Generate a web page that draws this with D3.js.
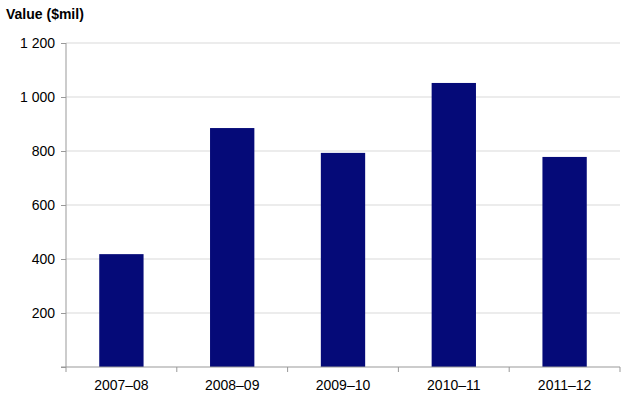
<!DOCTYPE html>
<html><head><meta charset="utf-8">
<script src="https://cdn.jsdelivr.net/npm/d3@7"></script>
<style>body{margin:0;background:#fff}</style></head>
<body><svg id="c" width="623" height="403"></svg>
<script>
const categories=["2007–08","2008–09","2009–10","2010–11","2011–12"];
const values=[418,885,793,1052,778];
const yTicks=[200,400,600,800,1000,1200];
const yTickLabels=["200","400","600","800","1 000","1 200"];
const svg=d3.select("#c");
const L=66,R=620,T=43,B=367;
const x=d3.scaleBand().domain(categories).range([L,R]).paddingInner(0.6).paddingOuter(0.3);
const xb=d3.scaleBand().domain(categories).range([L,R]);
const y=d3.scaleLinear().domain([0,1200]).range([B,T]);
const font="Liberation Sans, Arial, sans-serif";
svg.append("g").selectAll("line").data(yTicks).join("line")
 .attr("x1",L).attr("x2",R).attr("y1",d=>y(d)).attr("y2",d=>y(d))
 .attr("stroke","#d9d9d9").attr("stroke-width",1);
svg.append("g").selectAll("rect").data(values).join("rect")
 .attr("x",(d,i)=>x(categories[i])).attr("width",x.bandwidth())
 .attr("y",d=>y(d)).attr("height",d=>B-y(d)).attr("fill","#050a78");
const ya=svg.append("g").attr("transform",`translate(${L},0)`)
 .call(d3.axisLeft(y).tickValues([0,...yTicks]).tickSize(5).tickFormat((d,i)=>i==0?"":yTickLabels[i-1]));
ya.select(".domain").attr("stroke","#999").attr("d",`M0,${T}V${B}`);
ya.selectAll(".tick line").attr("stroke","#999");
ya.selectAll("text").attr("font-family",font).attr("font-size",14).attr("fill","#000").attr("dx",-3);
const xa=svg.append("g").attr("transform",`translate(0,${B})`);
xa.append("line").attr("x1",L-5).attr("x2",R).attr("stroke","#999");
xa.selectAll(".t").data([...categories.map(c=>xb(c)),R]).join("line")
 .attr("x1",d=>d).attr("x2",d=>d).attr("y1",0).attr("y2",5).attr("stroke","#999");
xa.selectAll("text").data(categories).join("text")
 .attr("x",d=>xb(d)+xb.bandwidth()/2).attr("y",23).attr("text-anchor","middle")
 .attr("font-family",font).attr("font-size",14).text(d=>d);
svg.append("text").attr("x",6).attr("y",19).attr("font-family",font).attr("font-size",14)
 .attr("font-weight","bold").text("Value ($mil)");
</script></body></html>
